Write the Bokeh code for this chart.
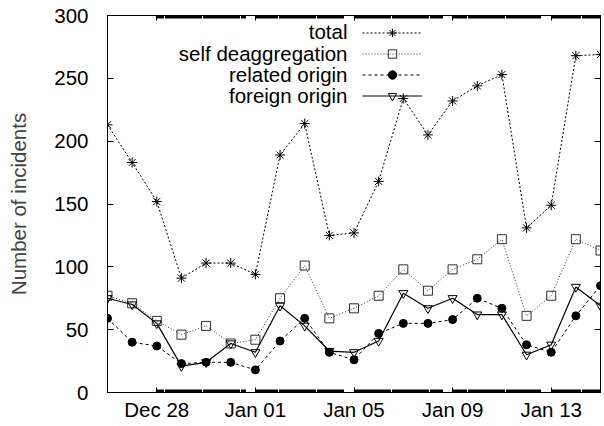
import numpy as np
import pandas as pd
from bokeh.plotting import figure
from bokeh.models import (Range1d, FixedTicker, DatetimeTickFormatter, LinearAxis, DatetimeAxis,
                          CustomJSTickFormatter, Legend, LegendItem, Label)
from bokeh.embed import file_html
from bokeh.resources import INLINE

# ---------------- data ----------------
dates = ["2007-12-26", "2007-12-27", "2007-12-28", "2007-12-29", "2007-12-30", "2007-12-31",
         "2008-01-01", "2008-01-02", "2008-01-03", "2008-01-04", "2008-01-05", "2008-01-06",
         "2008-01-07", "2008-01-08", "2008-01-09", "2008-01-10", "2008-01-11", "2008-01-12",
         "2008-01-13", "2008-01-14", "2008-01-15"]
total = [213, 183, 152, 91, 103, 103, 94, 189, 214, 125, 127, 168, 234, 205, 232, 244, 253, 131, 149, 268, 269]
self_deagg = [77, 71, 57, 46, 53, 39, 42, 75, 101, 59, 67, 77, 98, 81, 98, 106, 122, 61, 77, 122, 113]
related = [59, 40, 37, 23, 24, 24, 18, 41, 59, 32, 26, 47, 55, 55, 58, 75, 67, 38, 32, 61, 85]
foreign = [75, 70, 55, 21, 24, 39, 32, 69, 53, 33, 32, 41, 79, 67, 75, 62, 62, 30, 38, 84, 69]
series_names = ["total", "self deaggregation", "related origin", "foreign origin"]
tick_dates = ["2007-12-28", "2008-01-01", "2008-01-05", "2008-01-09", "2008-01-13"]
y_ticks = [0, 50, 100, 150, 200, 250, 300]
y_label = "Number of incidents"

FONT = "Liberation Sans"
FS = "20.5px"

x = pd.to_datetime(dates)
epoch = pd.Timestamp("1970-01-01")
major_ms = [float((t - epoch) / pd.Timedelta("1ms")) for t in pd.to_datetime(tick_dates)]
end_ms = float((x[-1] - epoch) / pd.Timedelta("1ms"))
hour = 3600 * 1000.0
minor_ms = []
for t in major_ms:
    for m in np.arange(t + hour, t + 87 * hour, hour):
        if m <= end_ms:
            minor_ms.append(float(m))

xticker = FixedTicker(ticks=major_ms, minor_ticks=minor_ms)
yticker = FixedTicker(ticks=y_ticks, minor_ticks=[])

p = figure(frame_width=493, frame_height=377, x_axis_type="datetime",
           x_range=Range1d(x[0], x[-1]), y_range=Range1d(0, 300),
           output_backend="svg", toolbar_location=None,
           min_border_left=99, min_border_right=4, min_border_top=12, min_border_bottom=25)
p.margin = (3, 0, 0, 4)
p.grid.visible = False
p.outline_line_color = "black"
p.outline_line_width = 1
p.background_fill_color = "white"
p.border_fill_color = "white"

def style_axis(ax, ticker, tin):
    ax.ticker = ticker
    ax.axis_line_color = "black"
    ax.axis_line_width = 1
    ax.major_tick_in = tin
    ax.major_tick_out = 0
    ax.minor_tick_in = 3
    ax.minor_tick_out = 0
    ax.major_tick_line_color = "black"
    ax.minor_tick_line_color = "black"
    ax.major_label_text_font = FONT
    ax.major_label_text_font_size = FS
    ax.major_label_text_color = "black"

xa = p.xaxis[0]
style_axis(xa, xticker, 5)
xa.formatter = DatetimeTickFormatter(days="%b %d", months="%b %d", hours="%b %d")
xa.major_label_standoff = 5

ya = p.yaxis[0]
style_axis(ya, yticker, 6)
ya.major_label_standoff = 19
ya.axis_label = y_label
ya.axis_label_text_font = FONT
ya.axis_label_text_font_size = FS
ya.axis_label_text_font_style = "normal"
ya.axis_label_standoff = 21

empty = CustomJSTickFormatter(code="return ''")
ra = LinearAxis()
style_axis(ra, yticker, 6)
ra.formatter = empty
ra.major_label_standoff = 0
ra.major_label_text_font_size = "0px"
p.add_layout(ra, "right")

ta = DatetimeAxis()
style_axis(ta, xticker, 5)
ta.formatter = empty
ta.major_label_standoff = 0
ta.major_label_text_font_size = "0px"
p.add_layout(ta, "above")

# ---------------- series ----------------
l1 = p.line(x, total, line_color="black", line_dash="2 2", line_width=1)
s1 = p.scatter(x, total, marker="asterisk", size=10, line_color="black", line_width=1)
l2 = p.line(x, self_deagg, line_color="#333333", line_dash="1 2", line_width=1)
s2 = p.scatter(x, self_deagg, marker="square", size=9, line_color="#303030", fill_color=None, line_width=1)
l3 = p.line(x, related, line_color="black", line_dash="3 3", line_width=1)
s3 = p.scatter(x, related, marker="circle", size=8, line_color="black", fill_color="black")
l4 = p.line(x, foreign, line_color="black", line_width=1.2)
s4 = p.scatter(x, foreign, marker="inverted_triangle", size=9, line_color="black", fill_color=None, line_width=1)

pairs = [(l1, s1), (l2, s2), (l3, s3), (l4, s4)]
items = [LegendItem(label=" ", renderers=[a, b]) for a, b in pairs]
legend = Legend(items=items, location=(255, 286), glyph_width=60, glyph_height=21,
                label_width=0, label_height=21, label_standoff=0, spacing=0, padding=0, margin=0,
                border_line_alpha=0, background_fill_alpha=0, label_text_font_size="1px")
p.add_layout(legend)

row_y = [360.7, 339.5, 318.5, 297]
for name, yy in zip(series_names, row_y):
    p.add_layout(Label(x=240, y=yy, x_units="screen", y_units="screen", text=name,
                       text_align="right", text_baseline="middle",
                       text_font=FONT, text_font_size=FS, text_color="black"))

open("out.html", "w").write(file_html(p, INLINE))
